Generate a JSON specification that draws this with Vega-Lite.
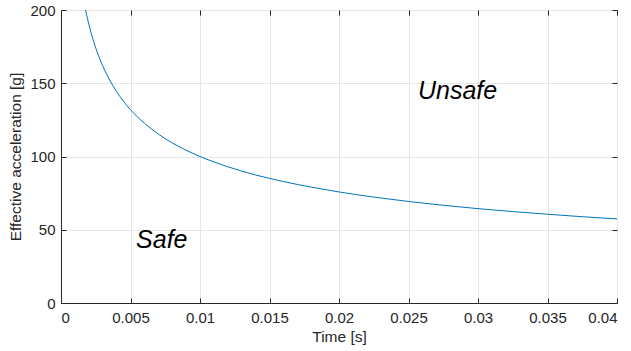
{
  "$schema": "https://vega.github.io/schema/vega-lite/v6.json",
  "width": 556,
  "height": 293,
  "autosize": {"type": "none"},
  "padding": {"left": 61, "top": 10, "right": 14, "bottom": 48},
  "background": "white",
  "config": {
    "font": "Liberation Sans",
    "view": {"stroke": "#262626", "strokeWidth": 1},
    "axis": {
      "domainColor": "#262626",
      "tickColor": "#262626",
      "labelColor": "#262626",
      "titleColor": "#262626",
      "labelFont": "Liberation Sans",
      "titleFont": "Liberation Sans",
      "labelFontSize": 15,
      "titleFontSize": 15.5,
      "titleFontWeight": "normal",
      "gridColor": "#e6e6e6",
      "gridOpacity": 1,
      "tickSize": -5
    }
  },
  "resolve": {"axis": {"x": "independent", "y": "independent"}},
  "datasets": {
    "curve": [
      {"t": 0.001768, "a": 200.0},
      {"t": 0.00185, "a": 196.4},
      {"t": 0.0019, "a": 194.3},
      {"t": 0.002, "a": 190.4},
      {"t": 0.0022, "a": 183.2},
      {"t": 0.0025, "a": 174.1},
      {"t": 0.0028, "a": 166.4},
      {"t": 0.003, "a": 161.9},
      {"t": 0.0035, "a": 152.2},
      {"t": 0.004, "a": 144.3},
      {"t": 0.0045, "a": 137.6},
      {"t": 0.005, "a": 131.9},
      {"t": 0.006, "a": 122.7},
      {"t": 0.007, "a": 115.3},
      {"t": 0.008, "a": 109.3},
      {"t": 0.009, "a": 104.3},
      {"t": 0.01, "a": 100.0},
      {"t": 0.012, "a": 93.0},
      {"t": 0.014, "a": 87.4},
      {"t": 0.016, "a": 82.9},
      {"t": 0.018, "a": 79.1},
      {"t": 0.02, "a": 75.8},
      {"t": 0.0225, "a": 72.3},
      {"t": 0.025, "a": 69.3},
      {"t": 0.0275, "a": 66.7},
      {"t": 0.03, "a": 64.4},
      {"t": 0.0325, "a": 62.4},
      {"t": 0.035, "a": 60.6},
      {"t": 0.0375, "a": 58.9},
      {"t": 0.04, "a": 57.4}
    ],
    "labels": [
      {"t": 0.02568, "a": 144.5, "text": "Unsafe"},
      {"t": 0.0054, "a": 43, "text": "Safe"}
    ]
  },
  "layer": [
    {
      "data": {"name": "curve"},
      "mark": {"type": "line", "color": "#0072BD", "strokeWidth": 1, "interpolate": "monotone", "clip": true},
      "encoding": {
        "x": {
          "field": "t", "type": "quantitative",
          "scale": {"domain": [0, 0.04], "nice": false, "zero": false},
          "axis": {"orient": "bottom", "values": [0, 0.005, 0.01, 0.015, 0.02, 0.025, 0.03, 0.035, 0.04], "format": "~g", "title": "Time [s]", "labelPadding": 12, "titlePadding": 4}
        },
        "y": {
          "field": "a", "type": "quantitative",
          "scale": {"domain": [0, 200], "nice": false},
          "axis": {"orient": "left", "values": [0, 50, 100, 150, 200], "title": "Effective acceleration [g]", "labelPadding": 11, "titlePadding": 6}
        }
      }
    },
    {
      "data": {"name": "labels"},
      "mark": {"type": "text", "align": "left", "baseline": "middle", "fontSize": 25, "fontStyle": "italic", "font": "Liberation Sans", "color": "black"},
      "encoding": {
        "x": {
          "field": "t", "type": "quantitative",
          "axis": {"orient": "top", "values": [0, 0.005, 0.01, 0.015, 0.02, 0.025, 0.03, 0.035, 0.04], "labels": false, "title": null, "grid": false, "domain": false}
        },
        "y": {
          "field": "a", "type": "quantitative",
          "axis": {"orient": "right", "values": [0, 50, 100, 150, 200], "labels": false, "title": null, "grid": false, "domain": false}
        },
        "text": {"field": "text"}
      }
    }
  ]
}
